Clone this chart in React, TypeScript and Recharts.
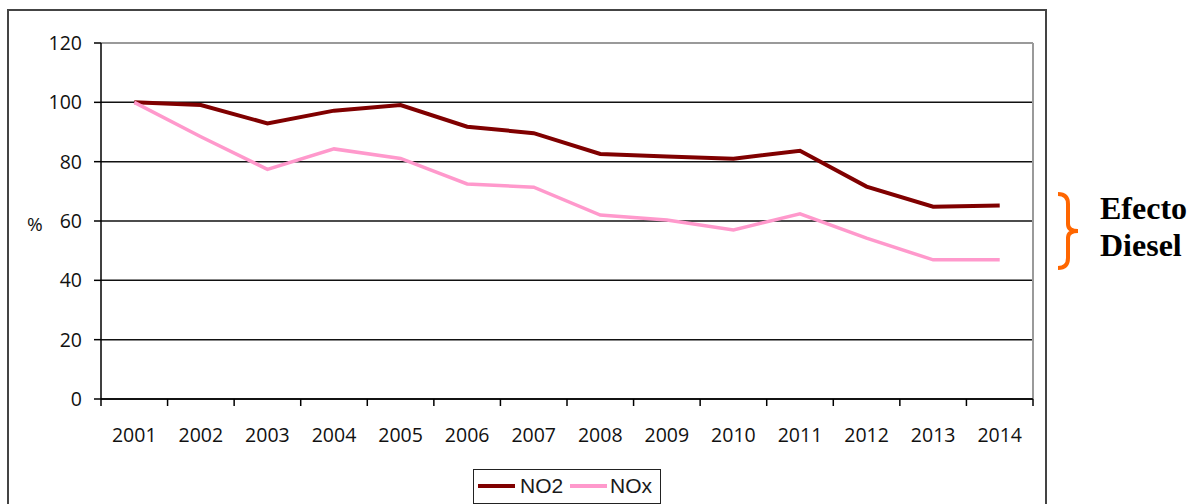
import React from 'react';
import { LineChart, Line, XAxis, YAxis, CartesianGrid, ReferenceLine } from 'recharts';

const years = ['2001', '2002', '2003', '2004', '2005', '2006', '2007', '2008', '2009', '2010', '2011', '2012', '2013', '2014'];
const no2 = [100, 99.1, 92.9, 97.2, 99.1, 91.8, 89.6, 82.6, 81.7, 81.0, 83.7, 71.6, 64.8, 65.2];
const nox = [100, 88.4, 77.4, 84.3, 81.1, 72.5, 71.4, 62.0, 60.3, 57.0, 62.4, 54.2, 46.9, 46.9];
const yTicks = [0, 20, 40, 60, 80, 100, 120];

const data = years.map((y, i) => ({ idx: i + 1, year: y, NO2: no2[i], NOx: nox[i] }));
const xTicks: number[] = [];
years.forEach((_, i) => { xTicks.push(i + 0.5); xTicks.push(i + 1); });
xTicks.push(years.length + 0.5);

const FONT = '"Open Sans", sans-serif';

const XTick = (props: any) => {
  const { x, y, payload } = props;
  const v = payload.value as number;
  if (Number.isInteger(v)) {
    return (
      <text x={x} y={y + 36} textAnchor="middle" fontFamily={FONT} fontSize={19.5} fill="#111">
        {years[v - 1]}
      </text>
    );
  }
  return <line x1={x} x2={x} y1={y - 7} y2={y} stroke="#000" strokeWidth={1.5} />;
};

export default function App() {
  return (
    <div style={{ position: 'absolute', left: 0, top: 0, width: 1189, height: 504, overflow: 'hidden', background: '#fff' }}>
      <div style={{ position: 'absolute', left: 7, top: 9, width: 1040, height: 520, border: '2px solid #444', boxSizing: 'border-box' }} />
      <div style={{ position: 'absolute', left: 0, top: 0 }}>
        <LineChart width={1189} height={504} data={data} margin={{ top: 43, right: 156, bottom: 65, left: 41 }}>
          <CartesianGrid horizontal={true} vertical={false} stroke="#111" strokeWidth={1.5} />
          <XAxis
            dataKey="idx"
            type="number"
            domain={[0.5, 14.5]}
            ticks={xTicks}
            interval={0}
            height={40}
            tickLine={false}
            tickSize={7}
            tickMargin={0}
            axisLine={{ stroke: '#000', strokeWidth: 1.5 }}
            tick={<XTick />}
          />
          <YAxis
            domain={[0, 120]}
            ticks={yTicks}
            width={60}
            tickSize={7}
            tickMargin={12}
            interval={0}
            axisLine={{ stroke: '#000', strokeWidth: 1.5 }}
            tickLine={{ stroke: '#000', strokeWidth: 1.5 }}
            tick={{ fontFamily: FONT, fontSize: 19.5, fill: '#111' }}
          />
          <ReferenceLine y={120} stroke="#9a9a9a" strokeWidth={2} />
          <ReferenceLine x={14.5} stroke="#9a9a9a" strokeWidth={2} />
          <Line type="linear" dataKey="NO2" stroke="#800000" strokeWidth={4} dot={false} isAnimationActive={false} />
          <Line type="linear" dataKey="NOx" stroke="#FF99CC" strokeWidth={3.5} dot={false} isAnimationActive={false} />
        </LineChart>
      </div>
      <div style={{ position: 'absolute', left: 27, top: 211, fontFamily: FONT, fontSize: 19, color: '#111' }}>%</div>
      <svg style={{ position: 'absolute', left: 1050, top: 188 }} width={40} height={86}>
        <path
          d="M8 6 Q18 6 18 16 L18 36 Q18 43 28 43 Q18 43 18 50 L18 70 Q18 80 8 80"
          fill="none"
          stroke="#FF6600"
          strokeWidth={4}
        />
      </svg>
      <div style={{ position: 'absolute', left: 1100, top: 190, fontFamily: '"Liberation Serif", serif', fontWeight: 'bold', fontSize: 32, lineHeight: '37px', color: '#000' }}>
        Efecto<br />Diesel
      </div>
      <div style={{ position: 'absolute', left: 473, top: 469, width: 188, height: 35, border: '1.5px solid #222', boxSizing: 'border-box', fontFamily: '"Liberation Sans", Arial, sans-serif', fontSize: 21, color: '#1a1a1a' }}>
        <div style={{ position: 'absolute', left: 4, top: 14, width: 37, height: 4, background: '#800000' }} />
        <div style={{ position: 'absolute', left: 46, top: 3, lineHeight: '26px' }}>NO2</div>
        <div style={{ position: 'absolute', left: 96, top: 14, width: 37, height: 4, background: '#FF99CC' }} />
        <div style={{ position: 'absolute', left: 136, top: 3, lineHeight: '26px' }}>NOx</div>
      </div>
    </div>
  );
}
